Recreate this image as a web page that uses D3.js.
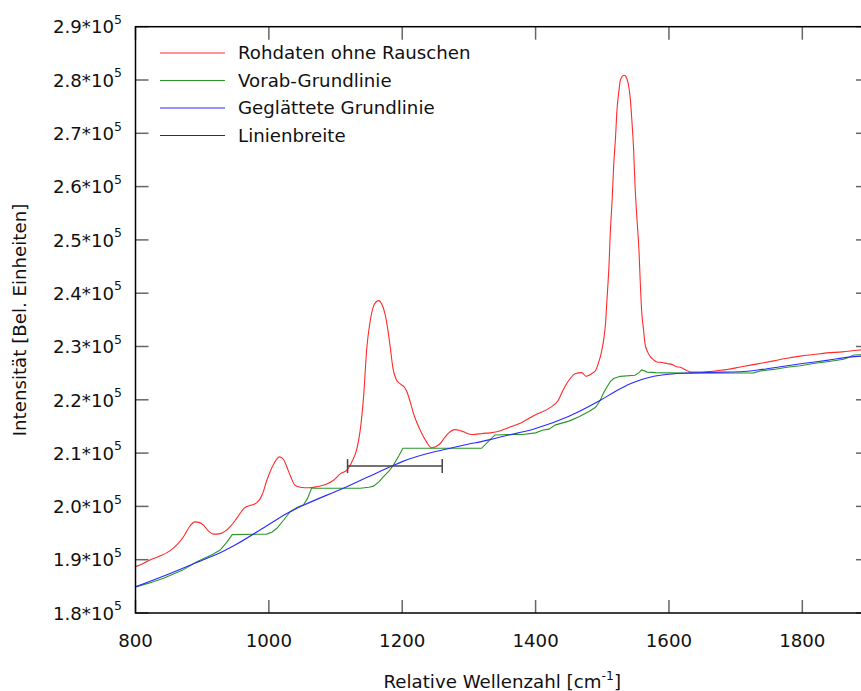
<!DOCTYPE html>
<html><head><meta charset="utf-8">
<script src="https://cdn.jsdelivr.net/npm/d3@7"></script>
<style>body{margin:0;background:#fff;} text{font-family:"DejaVu Sans",sans-serif;fill:#111;}</style>
</head><body><svg id="c" width="861" height="691"></svg>
<script>
const redX=[800,810,821,835,852,862,872,880,889,895,902,910,917,927,935,942,952,964,973,982,990,997,1005,1016,1022,1027,1033,1039,1047,1060,1072,1085,1097,1108,1117,1125,1132,1137,1142,1147,1151,1156,1161,1165,1169,1174,1178,1182,1186,1191,1197,1203,1207,1212,1217,1222,1227,1236,1244,1250,1257,1263,1269,1279,1285,1292,1300,1307,1315,1322,1332,1342,1360,1380,1400,1420,1434,1440,1447,1452,1459,1469,1476,1480,1484,1490,1494,1498,1502,1505,1507,1510,1512,1515,1517,1520,1522,1525,1527,1530,1533,1536,1539,1542,1544,1547,1549,1552,1555,1557,1559,1562,1564,1568,1572,1577,1582,1590,1597,1605,1612,1617,1625,1634,1650,1662,1675,1687,1705,1722,1740,1757,1777,1797,1817,1837,1860,1882,1900];
const redY=[188700,189200,189900,190600,191700,192800,194300,196000,197100,197000,196500,195300,194800,194900,195400,196200,197800,199800,200200,200700,202200,204900,207400,209300,208800,207400,205500,204000,203600,203500,203700,204100,204900,206200,206800,208500,210800,214300,220500,229900,234000,237200,238400,238600,238000,236200,233500,229900,226000,223800,223000,222400,221500,219600,217400,215700,214300,212200,211000,211200,211800,212800,213700,214400,214300,214000,213600,213500,213600,213700,213800,214000,214800,215800,217200,218400,219900,221500,223100,224000,224900,225100,224400,224600,224900,225500,226800,228500,231200,234500,238700,245000,251200,258000,263700,269500,274300,278000,279900,280700,280900,280500,279300,276500,273100,267000,260600,254000,248100,242000,236800,233000,230600,229000,228100,227500,227100,227000,226800,226600,226200,226100,225600,225200,225200,225300,225500,225700,226100,226500,226900,227300,227800,228200,228500,228800,229000,229300,229500];
const greenX=[800,820,842,870,892,914,927,937,945,997,1005,1012,1022,1032,1042,1052,1058,1064,1137,1150,1157,1165,1172,1180,1187,1195,1201,1319,1330,1339,1360,1380,1400,1410,1420,1430,1450,1465,1480,1490,1497,1502,1507,1512,1517,1527,1549,1555,1559,1564,1567,1580,1620,1727,1737,1757,1777,1797,1817,1840,1862,1870,1877,1900];
const greenY=[184900,185600,186500,188000,189600,190900,191800,193300,194700,194800,195200,195900,197400,199000,199800,200300,201500,203400,203400,203600,203800,204600,205600,206600,207800,209500,210900,210900,212300,213400,213500,213500,213800,214300,214500,215300,216000,216800,217800,218600,219900,221300,222400,223400,224000,224400,224600,225100,225600,225400,225200,225100,225000,225050,225400,225700,226100,226400,226800,227200,227600,228000,228400,228500];
const blueX=[800,850,900,927,950,1000,1029,1050,1100,1117,1150,1187,1200,1250,1272,1300,1317,1337,1350,1400,1450,1497,1520,1542,1557,1570,1587,1600,1632,1660,1707,1740,1767,1800,1837,1870,1900];
const blueY=[184900,187300,189900,191300,192800,196600,198800,200100,202800,203700,205600,207700,208400,210300,210900,211700,212100,212700,213100,214600,216900,219900,221600,223000,223700,224200,224600,224800,225050,225150,225250,225700,226200,226800,227400,228000,228300];
const lineWidthCenter=1189, lineWidthHalf=71, lineWidthY=207560;
const xTicks=[800,1000,1200,1400,1600,1800];
const yTicks=[1.8,1.9,2.0,2.1,2.2,2.3,2.4,2.5,2.6,2.7,2.8,2.9];
const legendLabels=["Rohdaten ohne Rauschen","Vorab-Grundlinie","Geglättete Grundlinie","Linienbreite"];
const colors=["#ff2a2a","#2a962a","#2a2aff","#333333"];

const svg=d3.select("#c");
const L=135.5,R=869,T=26.7,B=613;
const FS=18.2;
const x=d3.scaleLinear().domain([800,1900]).range([L,R]);
const y=d3.scaleLinear().domain([180000,290000]).range([B,T]);

const g=svg.append("g");
g.append("defs").append("clipPath").attr("id","cp").append("rect").attr("x",L).attr("y",T).attr("width",R-L).attr("height",B-T);

const tk=13;
xTicks.forEach(v=>{
  g.append("line").attr("x1",x(v)).attr("x2",x(v)).attr("y1",B).attr("y2",B-tk).attr("stroke","#666").attr("stroke-width",1.5);
  g.append("line").attr("x1",x(v)).attr("x2",x(v)).attr("y1",T).attr("y2",T+tk).attr("stroke","#666").attr("stroke-width",1.5);
  g.append("text").attr("x",x(v)).attr("y",647).attr("text-anchor","middle").attr("font-size",FS).text(v);
});
yTicks.forEach(v=>{
  const yy=y(v*1e5);
  g.append("line").attr("x1",L).attr("x2",L+tk).attr("y1",yy).attr("y2",yy).attr("stroke","#666").attr("stroke-width",1.5);
  g.append("line").attr("x1",R).attr("x2",R-tk).attr("y1",yy).attr("y2",yy).attr("stroke","#666").attr("stroke-width",1.5);
  const t=g.append("text").attr("x",122).attr("y",yy+6.7).attr("text-anchor","end").attr("font-size",FS);
  t.append("tspan").text(v.toFixed(1)+"*10");
  t.append("tspan").attr("dy",-9.5).attr("font-size",12.5).text("5");
});

const line=d3.line().x(d=>x(d[0])).y(d=>y(d[1]));
const curves=[[redX,redY],[greenX,greenY],[blueX,blueY]];
const gc=g.append("g").attr("clip-path","url(#cp)");
curves.forEach((c,i)=>{
  const data=c[0].map((v,j)=>[v,c[1][j]]);
  gc.append("path").datum(data).attr("d",line.curve(i==1?d3.curveLinear:d3.curveMonotoneX)).attr("fill","none").attr("stroke",colors[i]).attr("stroke-width",1.1);
});
const x1=x(lineWidthCenter-lineWidthHalf), x2=x(lineWidthCenter+lineWidthHalf), ly=y(lineWidthY);
gc.append("line").attr("x1",x1).attr("x2",x2).attr("y1",ly).attr("y2",ly).attr("stroke","#444").attr("stroke-width",1.5);
[x1,x2].forEach(xx=>gc.append("line").attr("x1",xx).attr("x2",xx).attr("y1",ly-7).attr("y2",ly+7).attr("stroke","#444").attr("stroke-width",1.5));

g.append("rect").attr("x",L).attr("y",T).attr("width",R-L).attr("height",B-T).attr("fill","none").attr("stroke","#000").attr("stroke-width",1.5);

legendLabels.forEach((s,i)=>{
  const yy=53+i*27.5;
  g.append("line").attr("x1",160).attr("x2",225).attr("y1",yy).attr("y2",yy).attr("stroke",colors[i]).attr("stroke-width",1.1);
  g.append("text").attr("x",238).attr("y",yy+6.4).attr("font-size",FS).text(s);
});

const xt=g.append("text").attr("x",(L+R)/2).attr("y",688).attr("text-anchor","middle").attr("font-size",FS);
xt.append("tspan").text("Relative Wellenzahl [cm");
xt.append("tspan").attr("dy",-8).attr("font-size",12.5).text("-1");
xt.append("tspan").attr("dy",8).text("]");
g.append("text").attr("transform","translate(26,320) rotate(-90)").attr("text-anchor","middle").attr("font-size",FS).text("Intensität [Bel. Einheiten]");
</script></body></html>
